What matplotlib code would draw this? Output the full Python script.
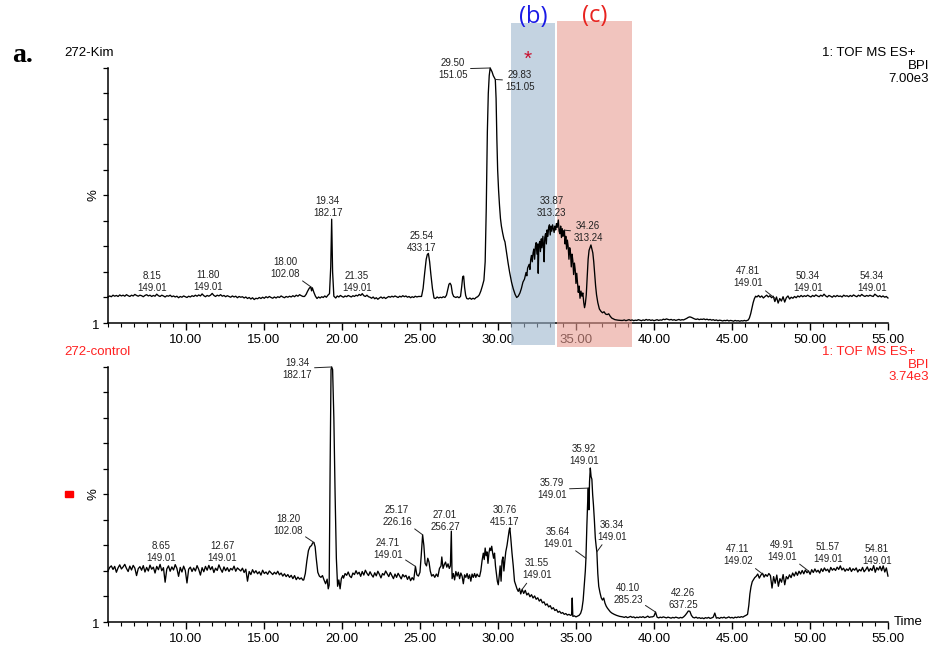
import numpy as np
import matplotlib
matplotlib.use("Agg")
import matplotlib.pyplot as plt
from matplotlib.patches import Rectangle
from matplotlib.ticker import MultipleLocator

plt.rcParams["font.family"] = ["Liberation Sans", "DejaVu Sans"]

# ---------------- 272-Kim, BPI (% of 7.00e3) ----------------
# evenly spaced baseline scans: values only
kim_base_a = [  # 5.0 - 17.5 min
    10.2, 10.6, 10.3, 10.9, 10.5, 10.8, 10.4, 11.0, 10.6, 10.9,
    10.5, 11.1, 10.7, 10.4, 10.9, 10.6, 11.2, 10.8, 10.5, 10.9,
    10.7, 10.3, 10.8, 11.1, 10.6, 10.9, 10.4, 10.8, 10.5, 11.3,
    10.7, 10.4, 10.9, 10.6, 10.2, 10.7, 10.5, 10.9, 10.3, 10.6,
    10.2, 10.5, 9.9, 10.4, 10.1, 10.6, 10.3, 10.0, 10.5, 10.2,
    10.7, 10.4, 10.9, 10.5, 11.0, 10.6, 11.4, 10.7, 10.3, 10.8,
    10.5, 10.9, 11.6, 10.8, 10.4, 10.9, 10.6, 11.1, 10.5, 10.8,
    10.3, 10.7, 10.4, 10.1, 10.6, 10.2, 10.5, 9.9, 10.4, 10.1,
    10.3, 9.8, 10.2, 9.6, 10.0, 9.4, 9.9, 9.2, 9.7, 9.5,
    10.0, 9.6, 10.1, 9.7, 10.3, 9.9, 10.4, 10.0, 9.7, 10.2,
    9.8, 10.3, 10.0, 10.6, 10.2, 9.9, 10.4, 10.1, 10.5, 10.2,
    10.7, 10.3, 10.9, 10.5, 11.1, 10.7, 10.4,
]
kim_peaks_a = [  # (min, %)
    (17.60, 10.4), (17.70, 11.2), (17.80, 12.5), (17.90, 13.6), (18.00, 14.2),
    (18.05, 12.6), (18.10, 13.8), (18.20, 12.0), (18.30, 10.5), (18.40, 9.6),
    (18.50, 10.2), (18.60, 9.8), (18.70, 10.3), (18.80, 10.0), (18.90, 10.6),
    (19.00, 10.1), (19.10, 10.9), (19.20, 11.5), (19.28, 22.0), (19.34, 40.7),
    (19.40, 20.0), (19.48, 10.5), (19.60, 9.8), (19.70, 10.6), (19.80, 10.2),
    (19.90, 10.8),
]
kim_base_b = [  # 20.0 - 24.9 min
    10.4, 10.1, 10.6, 10.3, 10.8, 10.5, 10.2, 10.7, 10.4, 10.9,
    10.6, 11.2, 10.8, 11.5, 10.7, 10.4, 10.9, 10.3, 10.1, 9.7,
    10.2, 9.5, 9.9, 9.3, 9.8, 10.2, 9.7, 10.1, 9.6, 10.0,
    10.4, 10.1, 10.5, 10.2, 10.6, 10.3, 10.0, 10.5, 10.2, 10.7,
    10.3, 10.6, 10.1, 10.4, 9.9, 10.3, 10.0, 10.5, 10.2, 10.4,
]
kim_peaks_b = [
    (25.10, 10.4), (25.20, 13.5), (25.30, 19.5), (25.40, 25.0), (25.47, 26.8),
    (25.54, 27.3), (25.62, 24.0), (25.70, 19.0), (25.80, 13.5), (25.90, 9.8),
    (26.00, 9.6), (26.10, 10.2), (26.20, 9.8), (26.30, 10.1), (26.40, 9.9),
    (26.50, 10.3), (26.60, 10.0), (26.70, 10.9), (26.78, 13.0), (26.86, 15.2),
    (26.93, 15.6), (27.00, 14.8), (27.08, 11.6), (27.16, 10.4), (27.30, 10.0),
    (27.40, 10.3), (27.50, 9.9), (27.60, 10.4), (27.68, 14.5), (27.74, 18.2),
    (27.80, 18.4), (27.86, 14.0), (27.93, 10.8), (28.00, 9.6), (28.10, 9.4),
    (28.20, 9.8), (28.30, 9.3), (28.40, 9.7), (28.50, 9.4), (28.60, 10.0),
    (28.70, 10.3), (28.80, 11.0), (28.90, 12.5), (29.00, 14.5), (29.10, 16.8),
    (29.18, 24.0), (29.25, 45.0), (29.32, 75.0), (29.38, 90.0), (29.44, 97.0),
    (29.50, 100.0), (29.56, 99.2), (29.62, 98.5), (29.70, 97.0), (29.77, 96.2),
    (29.83, 95.5), (29.88, 88.0), (29.93, 72.0), (29.98, 60.0), (30.04, 52.0),
    (30.10, 46.0), (30.16, 41.0), (30.22, 38.0), (30.30, 35.3), (30.38, 33.0),
    (30.45, 31.8), (30.55, 27.5), (30.65, 23.5), (30.75, 19.8), (30.87, 16.0),
    (30.98, 13.4), (31.10, 11.2), (31.20, 10.0), (31.30, 10.5), (31.41, 11.8),
]
kim_peaks_c = [
    (31.50, 13.5), (31.60, 16.0), (31.70, 17.2), (31.80, 19.8), (31.85, 18.5),
    (31.90, 21.5), (32.00, 23.0), (32.05, 21.0), (32.10, 25.0), (32.15, 26.5),
    (32.20, 24.0), (32.25, 27.5), (32.30, 29.0), (32.35, 25.0), (32.40, 30.0),
    (32.45, 31.5), (32.50, 27.0), (32.55, 31.0), (32.58, 19.5), (32.62, 30.5),
    (32.68, 32.0), (32.72, 28.0), (32.78, 33.0), (32.82, 29.5), (32.88, 34.0),
    (32.92, 30.0), (32.96, 24.0), (33.00, 33.5), (33.05, 35.0), (33.10, 31.0),
    (33.15, 36.5), (33.20, 34.0), (33.25, 37.5), (33.30, 38.5), (33.35, 34.5),
    (33.40, 38.0), (33.45, 36.0), (33.50, 38.5), (33.55, 37.0), (33.60, 35.5),
    (33.65, 38.0), (33.70, 36.5), (33.75, 39.0), (33.80, 37.5), (33.87, 40.4),
    (33.92, 36.0), (33.97, 35.0), (34.02, 38.0), (34.07, 33.5), (34.12, 37.0),
    (34.17, 34.0), (34.22, 36.0), (34.26, 36.4), (34.30, 31.0), (34.35, 34.0),
    (34.40, 29.0), (34.45, 32.5), (34.50, 30.0), (34.55, 25.0), (34.60, 29.5),
    (34.65, 27.5), (34.70, 22.0), (34.75, 27.0), (34.80, 24.5), (34.85, 19.0),
    (34.90, 23.5), (34.95, 21.0), (35.00, 15.5), (35.05, 19.5), (35.10, 16.0),
    (35.15, 12.0), (35.20, 14.5), (35.26, 9.7), (35.32, 12.5), (35.38, 10.5),
    (35.44, 11.8), (35.50, 8.0), (35.55, 6.0), (35.60, 7.5), (35.66, 11.0),
    (35.72, 18.0), (35.78, 25.0), (35.84, 28.5), (35.90, 29.5), (35.96, 30.6),
    (36.02, 29.0), (36.08, 27.5), (36.14, 24.0), (36.20, 19.0), (36.26, 14.5),
    (36.32, 11.0), (36.40, 8.0), (36.50, 5.5), (36.60, 4.6), (36.70, 4.0),
    (36.80, 4.4), (36.90, 3.5), (37.00, 3.3), (37.10, 3.6), (37.20, 2.6),
    (37.30, 1.9), (37.40, 1.6), (37.50, 1.3), (37.70, 1.1), (37.90, 1.0),
]
kim_base_c = [  # 38.0 - 45.9 min
    1.0, 1.2, 0.9, 1.1, 1.3, 1.0, 1.2, 0.9, 1.1, 1.0,
    1.3, 1.1, 0.9, 1.2, 1.0, 1.4, 1.1, 1.3, 1.0, 1.2,
    0.9, 1.1, 1.3, 1.0, 1.2, 1.1, 1.5, 1.3, 1.6, 1.4,
    1.2, 1.4, 1.1, 1.3, 1.0, 1.2, 1.4, 1.1, 1.3, 1.2,
    1.5, 1.8, 2.2, 2.4, 2.2, 1.9, 1.6, 1.4, 1.6, 1.3,
    1.5, 1.4, 1.6, 1.3, 1.5, 1.2, 1.4, 1.1, 1.3, 1.0,
    1.2, 0.9, 1.1, 1.0, 0.8, 1.0, 0.9, 1.1, 0.8, 1.0,
    0.9, 0.7, 1.0, 0.8, 0.9, 0.7, 0.9, 0.8, 1.0, 0.8,
]
kim_rise = [
    (46.05, 1.2), (46.12, 2.0), (46.20, 3.6), (46.28, 5.8), (46.36, 8.0),
    (46.44, 9.6), (46.52, 10.5), (46.60, 10.2),
]
kim_base_d = [  # 46.7 - 55.0 min
    10.8, 10.1, 10.6, 9.8, 10.4, 10.9, 10.2, 10.7, 9.9, 10.5,
    8.4, 10.2, 7.8, 9.6, 8.6, 10.3, 8.2, 9.9, 10.6, 9.4,
    10.1, 9.7, 10.4, 9.9, 10.6, 10.2, 10.8, 10.3, 10.7, 10.4,
    10.9, 10.5, 10.2, 10.8, 10.4, 11.0, 10.6, 10.3, 10.9, 10.5,
    11.3, 10.6, 10.2, 10.8, 10.5, 10.1, 10.7, 10.3, 10.8, 10.4,
    10.6, 10.2, 10.9, 10.5, 10.7, 10.3, 10.8, 10.4, 11.0, 10.6,
    10.3, 10.9, 10.5, 11.2, 10.7, 10.4, 10.8, 10.5, 10.9, 10.6,
    10.4, 11.3, 10.8, 10.3, 10.7, 10.2, 10.6, 10.1, 10.4, 9.8,
]

# ---------------- 272-control, BPI (% of 3.74e3) ----------------
ctl_base_a = [  # 5.0 - 17.5 min
    20.0, 21.4, 22.0, 20.6, 21.8, 19.5, 21.2, 22.4, 20.8, 21.6,
    22.6, 21.0, 19.8, 21.9, 20.4, 22.2, 21.1, 18.2, 20.9, 21.7,
    20.3, 22.1, 19.6, 21.4, 20.0, 22.3, 20.7, 21.5, 19.2, 21.8,
    20.5, 22.6, 20.1, 21.3, 15.6, 20.8, 22.0, 19.9, 21.6, 20.4,
    22.5, 21.0, 17.9, 21.4, 19.6, 21.9, 20.2, 15.3, 20.7, 21.5,
    19.8, 21.2, 20.0, 22.1, 20.6, 18.4, 21.3, 19.7, 21.8, 20.3,
    22.2, 20.5, 21.7, 19.4, 21.1, 20.2, 22.4, 20.8, 19.5, 21.6,
    20.1, 21.3, 19.8, 21.0, 20.4, 21.9, 19.9, 21.2, 20.6, 20.0,
    21.1, 19.4, 20.7, 16.0, 19.8, 18.6, 20.5, 19.2, 20.1, 18.9,
    19.7, 18.4, 20.3, 19.0, 19.6, 18.7, 20.0, 19.3, 18.6, 19.5,
    18.8, 19.9, 18.5, 19.2, 18.0, 18.9, 17.8, 18.6, 17.5, 18.3,
    17.0, 18.2, 16.6, 17.6, 16.8, 17.3, 16.4,
]
ctl_peaks_a = [
    (17.55, 16.5), (17.65, 19.0), (17.75, 24.0), (17.85, 28.0), (17.95, 29.5),
    (18.05, 30.0), (18.12, 31.0), (18.20, 31.2), (18.28, 29.5), (18.35, 25.0),
    (18.45, 19.5), (18.55, 18.0), (18.65, 17.5), (18.75, 18.2), (18.85, 16.5),
    (18.95, 15.0), (19.05, 16.8), (19.12, 13.0), (19.18, 14.5), (19.24, 60.0),
    (19.30, 99.0), (19.34, 100.0), (19.40, 99.0), (19.48, 80.0), (19.56, 50.0),
    (19.64, 25.0), (19.72, 14.0), (19.80, 16.5), (19.88, 13.0), (19.96, 17.0),
    (20.05, 18.2),
]
ctl_base_b = [  # 20.1 - 24.5 min
    17.2, 19.0, 18.3, 19.6, 18.0, 17.4, 19.2, 18.6, 20.1, 18.8,
    19.5, 17.9, 19.8, 18.4, 20.3, 19.1, 18.2, 19.7, 18.5, 17.6,
    19.3, 18.1, 19.9, 18.7, 17.3, 19.0, 18.4, 20.0, 18.9, 17.8,
    19.4, 18.2, 17.0, 18.8, 17.5, 19.1, 18.0, 16.9, 18.6, 17.7,
    18.3, 16.7, 17.9, 16.2, 17.4,
]
ctl_peaks_b = [
    (24.60, 16.5), (24.71, 21.8), (24.80, 18.5), (24.90, 18.0), (25.00, 19.5),
    (25.08, 26.0), (25.17, 34.2), (25.25, 30.0), (25.33, 23.0), (25.42, 22.0),
    (25.50, 25.0), (25.58, 23.5), (25.66, 20.0), (25.75, 18.0), (25.85, 18.6),
    (25.95, 17.5), (26.05, 18.8), (26.15, 17.8), (26.25, 21.0), (26.35, 22.0),
    (26.40, 25.5), (26.48, 21.0), (26.56, 22.5), (26.64, 23.5), (26.72, 21.5),
    (26.80, 22.8), (26.88, 21.0), (26.95, 22.0), (27.01, 35.6), (27.06, 17.0),
    (27.14, 19.0), (27.22, 16.5), (27.30, 19.8), (27.38, 18.0), (27.46, 19.5),
    (27.54, 17.0), (27.62, 19.2), (27.70, 18.0), (27.78, 15.0), (27.86, 18.5),
    (27.94, 17.5), (28.02, 19.0), (28.10, 17.0), (28.18, 18.5), (28.26, 16.0),
    (28.34, 18.8), (28.42, 17.5), (28.50, 19.0), (28.58, 17.5), (28.66, 18.8),
    (28.74, 18.0), (28.82, 17.8), (28.90, 20.0), (28.98, 24.0), (29.06, 27.0),
    (29.12, 24.5), (29.18, 29.0), (29.24, 26.0), (29.30, 27.5), (29.36, 23.0),
    (29.42, 27.0), (29.48, 29.0), (29.54, 28.0), (29.60, 29.7), (29.66, 27.0),
    (29.72, 25.0), (29.78, 27.0), (29.84, 22.0), (29.90, 19.0), (29.96, 16.0),
    (30.02, 14.6), (30.08, 18.0), (30.14, 22.0), (30.20, 16.0), (30.26, 24.0),
    (30.32, 25.5), (30.38, 20.0), (30.44, 24.0), (30.50, 27.5), (30.58, 30.0),
    (30.66, 33.5), (30.72, 36.0), (30.76, 36.9), (30.82, 33.0), (30.90, 27.0),
    (30.98, 22.0), (31.06, 16.0), (31.14, 14.5), (31.22, 13.0), (31.30, 12.0),
    (31.38, 13.2), (31.46, 11.0), (31.55, 12.8),
]
ctl_base_c = [  # 31.65 - 34.65 min
    11.2, 12.4, 10.6, 11.3, 9.9, 10.7, 9.4, 10.2, 8.9, 9.5,
    8.2, 8.9, 7.5, 7.9, 6.6, 7.1, 5.9, 6.4, 5.1, 5.6,
    4.5, 4.9, 3.8, 4.2, 3.4, 3.7, 3.0, 3.3, 2.7, 3.0, 2.6,
]
ctl_peaks_c = [
    (34.72, 2.8), (34.76, 9.4), (34.80, 2.2), (34.90, 2.4), (35.00, 2.0),
    (35.10, 2.3), (35.20, 2.6), (35.30, 3.4), (35.38, 5.0), (35.46, 8.5),
    (35.54, 15.0), (35.60, 20.0), (35.64, 25.0), (35.70, 38.0), (35.75, 47.0),
    (35.79, 52.5), (35.83, 44.0), (35.87, 55.0), (35.92, 60.4), (35.97, 57.0),
    (36.02, 56.0), (36.07, 50.0), (36.12, 46.0), (36.18, 40.0), (36.24, 33.0),
    (36.29, 30.0), (36.34, 27.5), (36.40, 19.0), (36.46, 14.0), (36.54, 11.5),
    (36.62, 9.5), (36.70, 8.6), (36.78, 9.4), (36.86, 7.4), (36.94, 6.2),
    (37.02, 5.4), (37.10, 4.8), (37.20, 4.0), (37.30, 3.5), (37.45, 3.0),
    (37.60, 2.6), (37.80, 2.2),
]
ctl_base_d = [  # 38.0 - 45.9 min
    2.0, 1.8, 2.1, 1.7, 1.9, 2.2, 1.8, 2.0, 1.6, 1.9,
    1.7, 2.0, 1.8, 2.1, 1.7, 1.9, 2.3, 1.8, 2.0, 2.0,
    2.3, 3.9, 1.9, 1.6, 1.9, 1.7, 2.0, 1.8, 1.6, 1.9,
    1.7, 1.5, 1.8, 1.6, 1.9, 1.7, 1.5, 1.8, 1.6, 2.0,
    2.6, 3.4, 4.3, 4.2, 2.6, 1.8, 1.6, 1.9, 1.5, 1.7,
    1.4, 1.6, 1.3, 1.7, 1.5, 1.8, 1.4, 1.6, 1.9, 3.5,
    1.5, 1.7, 1.4, 1.8, 1.6, 1.9, 1.5, 1.7, 2.0, 1.6,
    1.8, 1.5, 1.9, 1.7, 2.0, 1.8, 2.1, 1.9, 2.3, 2.6,
]
ctl_rise = [
    (46.00, 3.0), (46.08, 6.5), (46.15, 11.0), (46.22, 13.8), (46.30, 15.8),
    (46.38, 16.6), (46.46, 17.4),
]
ctl_base_e = [  # 46.55 - 55.0 min
    17.9, 18.8, 17.2, 18.4, 19.1, 17.6, 18.6, 17.9, 19.0, 18.2,
    13.3, 17.8, 15.2, 18.4, 14.0, 17.0, 15.6, 18.6, 14.6, 17.8,
    16.9, 18.5, 17.4, 19.2, 18.0, 19.6, 18.3, 19.9, 18.8, 20.2,
    18.9, 20.4, 19.3, 20.0, 18.7, 20.5, 19.4, 20.8, 19.6, 20.3,
    19.2, 20.9, 19.8, 21.2, 20.1, 20.7, 19.5, 21.4, 20.3, 21.0,
    20.2, 21.5, 20.6, 22.0, 20.4, 21.1, 19.9, 20.8, 20.2, 21.3,
    19.8, 20.9, 20.3, 21.2, 19.6, 20.6, 20.0, 21.4, 19.7, 20.5,
    21.6, 19.9, 21.0, 20.2, 22.1, 19.5, 21.3, 20.4, 21.8, 20.1,
    22.0, 19.6, 21.2, 18.0,
]

# peak labels: retention time, m/z, label centre (min, %), leader line
kim_labels = [
    (8.15, "149.01", 7.82, 16.1, False),
    (11.80, "149.01", 11.41, 16.5, False),
    (18.00, "102.08", 16.35, 21.4, True),
    (19.34, "182.17", 19.10, 45.3, False),
    (21.35, "149.01", 20.96, 15.9, False),
    (25.54, "433.17", 25.13, 31.8, False),
    (29.50, "151.05", 27.12, 99.6, True),
    (29.83, "151.05", 31.41, 94.9, True),
    (33.87, "313.23", 33.46, 45.3, False),
    (34.26, "313.24", 35.77, 35.5, True),
    (47.81, "149.01", 46.03, 18.0, True),
    (50.34, "149.01", 49.87, 15.9, False),
    (54.34, "149.01", 53.97, 15.9, False),
]
ctl_labels = [
    (8.65, "149.01", 8.40, 27.3, False),
    (12.67, "149.01", 12.31, 27.3, False),
    (18.20, "102.08", 16.54, 38.0, True),
    (19.34, "182.17", 17.12, 99.4, True),
    (24.71, "149.01", 22.95, 28.8, True),
    (25.17, "226.16", 23.53, 41.6, True),
    (27.01, "256.27", 26.60, 39.6, False),
    (30.76, "415.17", 30.45, 41.6, False),
    (31.55, "149.01", 32.50, 20.6, True),
    (35.64, "149.01", 33.85, 32.9, True),
    (35.79, "149.01", 33.46, 52.0, True),
    (35.92, "149.01", 35.51, 65.3, False),
    (36.34, "149.01", 37.31, 35.7, True),
    (40.10, "285.23", 38.33, 11.0, True),
    (42.26, "637.25", 41.86, 9.2, False),
    (47.11, "149.02", 45.38, 26.3, True),
    (49.91, "149.01", 48.21, 28.0, True),
    (51.57, "149.01", 51.15, 27.1, False),
    (54.81, "149.01", 54.29, 26.3, False),
]

# highlighted retention windows (min)
window_b = (30.83, 33.65)
window_c = (33.78, 38.59)


def scans(start, stop, values):
    return list(zip(np.linspace(start, stop, len(values)), values))


def build(parts):
    pts = [p for part in parts for p in part]
    t, v = zip(*pts)
    return np.array(t), np.array(v)


kim_t, kim_v = build([
    scans(5.0, 17.5, kim_base_a), kim_peaks_a,
    scans(20.0, 24.9, kim_base_b), kim_peaks_b, kim_peaks_c,
    scans(38.0, 45.9, kim_base_c), kim_rise,
    scans(46.7, 55.0, kim_base_d),
])
ctl_t, ctl_v = build([
    scans(5.0, 17.5, ctl_base_a), ctl_peaks_a,
    scans(20.1, 24.5, ctl_base_b), ctl_peaks_b,
    scans(31.65, 34.65, ctl_base_c), ctl_peaks_c,
    scans(38.0, 45.9, ctl_base_d), ctl_rise,
    scans(46.55, 55.0, ctl_base_e),
])

fig = plt.figure(figsize=(9.34, 6.5), dpi=100)
ax1 = fig.add_axes([0.1156, 0.5031, 0.8351, 0.3923])
ax2 = fig.add_axes([0.1156, 0.0431, 0.8351, 0.3923])


def style_axis(ax):
    ax.set_xlim(5, 55)
    ax.set_ylim(0, 100)
    for s in ("top", "right"):
        ax.spines[s].set_visible(False)
    for s in ("left", "bottom"):
        ax.spines[s].set_linewidth(1.1)
    ax.xaxis.set_major_locator(MultipleLocator(5))
    ax.xaxis.set_minor_locator(MultipleLocator(5 / 6))
    ax.yaxis.set_major_locator(MultipleLocator(10))
    ax.set_xticks(np.arange(10, 56, 5))
    ax.set_xticklabels([f"{x:.2f}" for x in np.arange(10, 56, 5)], fontsize=9.5)
    ax.tick_params(axis="x", which="major", direction="out", length=5, width=1, pad=3)
    ax.tick_params(axis="x", which="minor", direction="out", length=3, width=0.8)
    ax.tick_params(axis="y", direction="out", length=3.5, width=0.9, labelleft=False)
    ax.annotate("1", xy=(0, 0), xycoords="axes fraction", xytext=(-6, -2),
                textcoords="offset points", ha="right", va="center", fontsize=9.5)
    ax.annotate("%", xy=(0, 0.5), xycoords="axes fraction", xytext=(-6, 0),
                textcoords="offset points", ha="right", va="center",
                rotation=90, fontsize=9.5)


def draw_labels(ax, t, v, labels):
    for rt, mz, lx, ly, leader in labels:
        txt = f"{rt:.2f}\n{mz}"
        if leader:
            ax.annotate(txt, xy=(rt, np.interp(rt, t, v)), xytext=(lx, ly),
                        ha="center", va="center", fontsize=7, color="#222222",
                        linespacing=1.25, annotation_clip=False, zorder=5,
                        arrowprops=dict(arrowstyle="-", lw=0.7, color="#222222",
                                        shrinkA=0, shrinkB=0))
        else:
            ax.text(lx, ly, txt, ha="center", va="center", fontsize=7,
                    color="#222222", linespacing=1.25, clip_on=False, zorder=5)


for ax, t, v, labels in ((ax1, kim_t, kim_v, kim_labels),
                         (ax2, ctl_t, ctl_v, ctl_labels)):
    style_axis(ax)
    ax.plot(t, v, color="black", lw=0.95, zorder=4, clip_on=False)
    draw_labels(ax, t, v, labels)

ax2.annotate("Time", xy=(1, 0), xycoords="axes fraction", xytext=(4, 0),
             textcoords="offset points", ha="left", va="center", fontsize=9.5)

# highlighted windows (b) and (c)
ax1.axvspan(*window_b, ymin=-0.086, ymax=1.176, color="#9eb6cd", alpha=0.6,
            lw=0, zorder=3, clip_on=False)
ax1.axvspan(*window_c, ymin=-0.094, ymax=1.184, color="#e99d93", alpha=0.6,
            lw=0, zorder=3, clip_on=False)
xt = ax1.get_xaxis_transform()
ax1.text(np.mean(window_b), 1.2, "(b)", transform=xt, ha="center", va="center",
         fontsize=17, color="#1a1ae6", family=["Open Sans", "DejaVu Sans"])
ax1.text(np.mean(window_c), 1.205, "(c)", transform=xt, ha="center", va="center",
         fontsize=17, color="#e8231f", family=["Open Sans", "DejaVu Sans"])
ax1.text(31.92, 1.035, "*", transform=xt, ha="center", va="center",
         fontsize=15, color="#c8102e", zorder=5)

# panel headers
fig.text(0.013, 0.915, "a.", fontsize=20, weight="bold",
         family=["Liberation Serif", "DejaVu Serif"], va="center")
fig.text(0.0685, 0.918, "272-Kim", fontsize=9.5, va="center")
fig.text(0.0685, 0.4585, "272-control", fontsize=9.5, va="center", color="#ff2020")
for y0, scale, col in ((0.918, "7.00e3", "black"), (0.4585, "3.74e3", "#ff2020")):
    fig.text(0.9797, y0, "1: TOF MS ES+", fontsize=9.5, ha="right", va="center", color=col)
    fig.text(0.9946, y0 - 0.020, "BPI", fontsize=9.5, ha="right", va="center", color=col)
    fig.text(0.9946, y0 - 0.039, scale, fontsize=9.5, ha="right", va="center", color=col)

fig.patches.append(Rectangle((65 / 934, 1 - 497 / 650), 8 / 934, 6 / 650,
                             transform=fig.transFigure, color="#ff0000"))

fig.savefig("out.png", dpi=100)
